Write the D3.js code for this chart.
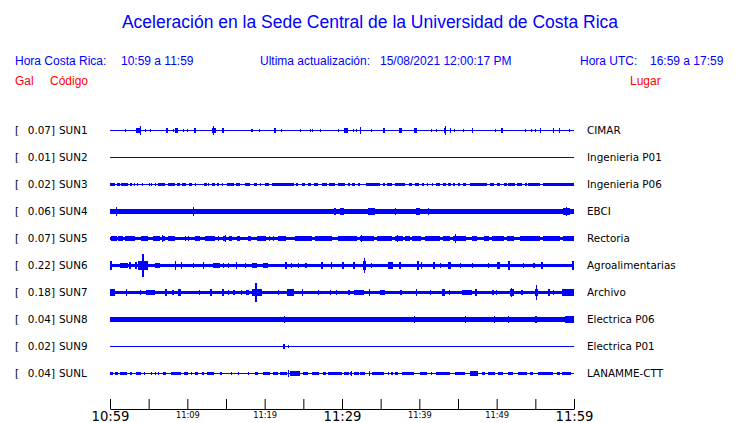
<!DOCTYPE html>
<html>
<head>
<meta charset="utf-8">
<script src="https://cdn.jsdelivr.net/npm/d3@7"></script>
<style>
  body { margin: 0; background: #fff; }
  svg { display: block; }
  .hdr { font-family: "Liberation Sans", Arial, sans-serif; font-size: 12px; }
  .lbl { font-family: "DejaVu Sans", sans-serif; font-size: 10.4px; fill: #000; }
</style>
</head>
<body>
<div id="chart"></div>
<script>
  // stations, top to bottom
  var codes = ['SUN1', 'SUN2', 'SUN3', 'SUN4', 'SUN5', 'SUN6', 'SUN7', 'SUN8', 'SUN9', 'SUNL'];
  var places = ['CIMAR', 'Ingenieria P01', 'Ingenieria P06', 'EBCI', 'Rectoria', 'Agroalimentarias',
    'Archivo', 'Electrica P06', 'Electrica P01', 'LANAMME-CTT'];
  var peakGal = ['0.07', '0.01', '0.02', '0.06', '0.07', '0.22', '0.18', '0.04', '0.02', '0.04'];
  // background noise level of each trace (relative amplitude)
  var baseNoise = [0, 0, 0, 0.15, 0.11, 0.11, 0.11, 0.14, 0, 0];

  // minutes after 10:59
  var tickMinutes = [0, 5, 10, 15, 20, 25, 30, 35, 40, 45, 50, 55, 60];
  var tickLabels = ['10:59', '', '11:09', '', '11:19', '', '11:29', '', '11:39', '', '11:49', '', '11:59'];
  var majorLabels = ['10:59', '11:29', '11:59'];

  // bursts: [start min, end min, relative amplitude]
  var sun1Bursts = [[2.0, 2.1, 0.1], [3.4, 4.0, 0.15], [3.9, 4.0, 0.3], [4.5, 4.6, 0.1], [5.2, 5.3, 0.1],
    [7.3, 7.5, 0.15], [8.1, 8.2, 0.1], [8.4, 8.8, 0.13], [9.4, 9.5, 0.1], [10.0, 10.1, 0.1],
    [10.9, 11.1, 0.15], [13.2, 13.7, 0.18], [13.3, 13.4, 0.33], [14.5, 14.7, 0.12], [18.2, 18.4, 0.1],
    [19.3, 19.4, 0.1], [21.2, 21.5, 0.15], [22.1, 22.2, 0.08], [24.6, 24.7, 0.08], [25.9, 26.0, 0.08],
    [26.1, 26.2, 0.1], [27.2, 27.3, 0.1], [29.5, 29.6, 0.1], [30.3, 30.8, 0.18], [31.4, 31.5, 0.1],
    [31.8, 31.9, 0.1], [32.3, 32.4, 0.25], [33.8, 33.9, 0.1], [35.3, 35.6, 0.12], [37.4, 37.8, 0.15],
    [39.3, 39.7, 0.15], [41.5, 41.6, 0.1], [42.2, 42.3, 0.1], [43.2, 43.5, 0.18], [43.3, 43.4, 0.33],
    [44.0, 44.1, 0.15], [44.5, 44.6, 0.1], [45.6, 45.7, 0.1], [46.8, 46.9, 0.12], [49.8, 49.9, 0.1],
    [50.6, 50.8, 0.12], [53.7, 53.8, 0.1], [54.4, 54.5, 0.1], [55.0, 55.1, 0.1], [55.6, 55.7, 0.12],
    [57.3, 57.4, 0.12], [58.0, 58.1, 0.12], [59.4, 59.5, 0.1]];
  var sun2Bursts = [];
  var sun3Bursts = [[0, 0.65, 0.11], [0.86, 1.29, 0.11], [1.42, 2.37, 0.11], [2.58, 2.8, 0.11], [3.1, 3.2, 0.11],
    [3.55, 3.6, 0.11], [4.2, 4.25, 0.11], [5.05, 5.1, 0.11], [5.35, 5.4, 0.11], [5.8, 5.85, 0.11],
    [6.25, 7.1, 0.11], [7.54, 8.4, 0.11], [8.6, 9.05, 0.11], [9.35, 9.9, 0.11], [10.2, 10.55, 0.11],
    [11.0, 11.05, 0.11], [12.15, 12.5, 0.11], [12.7, 12.75, 0.11], [13.2, 13.6, 0.11], [13.9, 14.2, 0.11],
    [14.45, 14.5, 0.11], [15.1, 15.95, 0.11], [16.3, 16.8, 0.11], [17.45, 18.1, 0.11], [18.6, 19.0, 0.11],
    [19.4, 19.45, 0.11], [20.0, 20.5, 0.11], [20.9, 23.7, 0.11], [24.05, 24.35, 0.11], [24.8, 25.2, 0.11],
    [25.65, 26.1, 0.11], [26.4, 26.95, 0.11], [27.4, 28.0, 0.11], [28.3, 29.1, 0.11], [29.5, 30.4, 0.11],
    [30.8, 31.0, 0.11], [31.25, 31.7, 0.11], [32.1, 32.3, 0.11], [33.1, 34.9, 0.11], [35.35, 35.6, 0.11],
    [35.8, 36.4, 0.11], [36.85, 38.15, 0.11], [38.6, 39.0, 0.11], [39.4, 39.9, 0.11], [40.3, 40.5, 0.11],
    [40.95, 41.0, 0.11], [41.6, 41.65, 0.11], [42.2, 42.7, 0.11], [43.1, 43.5, 0.11], [43.75, 44.2, 0.11],
    [44.4, 44.6, 0.11], [45.0, 45.3, 0.11], [45.7, 46.1, 0.11], [46.55, 48.7, 0.11], [49.1, 49.6, 0.11],
    [50.0, 50.4, 0.11], [50.9, 51.3, 0.11], [51.5, 52.4, 0.11], [52.6, 53.2, 0.11], [53.7, 53.9, 0.11],
    [54.1, 55.6, 0.11], [56.0, 60, 0.11]];
  var sun4Bursts = [[0.8, 0.95, 0.27], [10.75, 10.85, 0.27], [19.5, 19.7, 0.18], [29.0, 29.2, 0.2],
    [29.8, 30.0, 0.22], [29.74, 30.2, 0.2], [33.4, 34.3, 0.19], [36.8, 36.9, 0.19], [39.6, 40.1, 0.19],
    [41.15, 41.25, 0.19], [56.15, 56.25, 0.18], [58.6, 59.5, 0.2], [59.0, 59.1, 0.27]];
  var sun5Bursts = [[0.13, 0.86, 0.17], [1.07, 1.72, 0.17], [2.0, 3.23, 0.17], [4.0, 4.95, 0.17], [5.6, 6.45, 0.17],
    [6.68, 7.1, 0.17], [6.7, 6.8, 0.25], [7.45, 8.4, 0.17], [9.7, 9.8, 0.17], [10.1, 10.2, 0.17], [11.0, 11.6, 0.17],
    [12.3, 13.6, 0.17], [14.0, 14.1, 0.17], [14.65, 15.1, 0.17], [14.85, 14.95, 0.25], [15.4, 15.75, 0.17],
    [16.4, 16.8, 0.17], [17.9, 18.3, 0.17], [18.95, 20.05, 0.17], [20.5, 20.6, 0.17], [21.1, 21.2, 0.17],
    [21.75, 22.8, 0.17], [23.9, 26.1, 0.17], [26.5, 28.65, 0.17], [29.5, 31.9, 0.17], [32.3, 34.05, 0.17],
    [32.45, 32.55, 0.25], [34.5, 36.4, 0.17], [36.85, 37.9, 0.17], [37.05, 37.15, 0.25], [38.1, 38.8, 0.17],
    [39.0, 40.1, 0.17], [40.7, 42.7, 0.17], [43.1, 44.0, 0.17], [44.4, 46.1, 0.17], [44.65, 44.8, 0.3],
    [46.8, 47.4, 0.17], [48.3, 48.9, 0.17], [49.35, 50.9, 0.17], [51.3, 52.2, 0.17], [53.0, 55.6, 0.17],
    [56.0, 58.2, 0.17], [58.6, 60, 0.17]];
  var sun6Bursts = [[0.0, 0.25, 0.26], [1.3, 2.37, 0.18], [2.5, 2.7, 0.24], [3.2, 3.4, 0.22], [3.66, 4.95, 0.3],
    [4.18, 4.4, 0.85], [5.8, 6.45, 0.15], [8.35, 8.45, 0.3], [9.15, 9.25, 0.2], [10.75, 10.85, 0.15],
    [12.0, 12.1, 0.2], [13.35, 14.2, 0.18], [14.6, 14.7, 0.18], [15.25, 15.35, 0.18], [16.35, 16.45, 0.24],
    [17.4, 17.5, 0.18], [18.3, 19.0, 0.18], [19.8, 20.5, 0.18], [22.6, 22.85, 0.2], [23.45, 23.55, 0.18],
    [24.25, 24.35, 0.18], [25.2, 25.4, 0.18], [27.3, 27.6, 0.2], [28.6, 28.7, 0.2], [29.95, 30.2, 0.2],
    [31.46, 31.7, 0.2], [32.75, 33.2, 0.3], [32.9, 33.05, 0.52], [33.75, 33.85, 0.18], [36.0, 36.6, 0.2],
    [37.4, 37.7, 0.2], [39.65, 39.9, 0.28], [40.25, 40.35, 0.22], [41.8, 42.0, 0.2], [42.65, 42.75, 0.18],
    [43.75, 44.2, 0.2], [45.25, 45.35, 0.18], [46.75, 46.85, 0.18], [48.85, 48.95, 0.18], [50.0, 50.4, 0.2],
    [51.5, 51.7, 0.26], [53.4, 53.5, 0.18], [54.7, 55.0, 0.18], [55.7, 56.0, 0.2], [59.7, 59.9, 0.26]];
  var sun7Bursts = [[0.0, 0.65, 0.2], [2.1, 2.2, 0.2], [3.85, 3.95, 0.18], [4.7, 5.8, 0.18], [7.1, 7.3, 0.2],
    [8.0, 8.2, 0.18], [8.8, 9.25, 0.2], [11.55, 11.65, 0.18], [12.9, 13.1, 0.2], [14.45, 14.65, 0.2],
    [15.25, 15.35, 0.18], [15.95, 16.15, 0.18], [16.95, 17.05, 0.18], [17.65, 18.1, 0.18], [18.3, 19.6, 0.25],
    [18.8, 19.1, 0.67], [21.7, 21.8, 0.18], [22.95, 23.9, 0.22], [24.8, 24.95, 0.25], [26.85, 26.95, 0.18],
    [28.4, 28.5, 0.18], [29.25, 29.35, 0.18], [30.8, 31.0, 0.15], [31.5, 32.8, 0.15], [33.55, 33.65, 0.22],
    [34.9, 35.5, 0.18], [37.5, 37.7, 0.18], [39.6, 39.7, 0.2], [41.35, 41.45, 0.18], [42.9, 43.3, 0.2],
    [43.9, 44.0, 0.18], [45.5, 46.8, 0.18], [47.2, 47.4, 0.2], [49.35, 49.6, 0.18], [49.95, 50.05, 0.18],
    [51.7, 52.2, 0.25], [51.85, 51.95, 0.33], [53.2, 53.45, 0.18], [54.95, 55.4, 0.25], [55.1, 55.25, 0.52],
    [56.7, 56.9, 0.2], [57.25, 57.35, 0.18], [58.4, 59.9, 0.2]];
  var sun8Bursts = [[22.45, 22.55, 0.22], [39.25, 39.35, 0.2], [43.35, 43.45, 0.18], [45.95, 46.05, 0.22],
    [49.6, 49.7, 0.2], [50.85, 50.95, 0.18], [51.45, 51.55, 0.2], [52.95, 53.05, 0.18], [53.85, 53.95, 0.18],
    [55.0, 55.2, 0.22], [55.75, 55.85, 0.18], [58.8, 59.9, 0.22]];
  var sun9Bursts = [[22.4, 22.6, 0.12], [23.0, 23.1, 0.08]];
  var sunlBursts = [[0.0, 0.43, 0.11], [0.64, 1.07, 0.11], [1.29, 2.15, 0.11], [2.58, 2.8, 0.11], [3.32, 4.0, 0.11],
    [4.45, 4.5, 0.11], [5.35, 5.4, 0.11], [5.8, 5.85, 0.11], [6.2, 6.25, 0.11], [6.9, 7.3, 0.11],
    [7.9, 9.25, 0.11], [9.6, 10.1, 0.11], [10.5, 10.55, 0.11], [11.0, 11.4, 0.11], [11.85, 12.05, 0.11],
    [12.5, 13.35, 0.11], [14.2, 14.45, 0.11], [15.7, 15.75, 0.11], [16.55, 16.6, 0.11], [17.85, 17.9, 0.11],
    [18.75, 19.2, 0.11], [19.8, 20.7, 0.11], [21.1, 21.75, 0.11], [22.0, 22.85, 0.11], [23.0, 23.1, 0.22],
    [23.3, 24.55, 0.15], [25.0, 25.65, 0.11], [26.1, 26.95, 0.11], [27.6, 28.0, 0.11], [28.2, 30.0, 0.11],
    [30.2, 30.8, 0.11], [31.0, 31.25, 0.11], [31.2, 31.3, 0.18], [31.5, 32.1, 0.11], [32.3, 32.95, 0.11],
    [33.55, 33.65, 0.18], [33.85, 35.35, 0.11], [35.95, 36.0, 0.11], [36.4, 36.6, 0.11], [36.85, 37.3, 0.11],
    [37.7, 39.2, 0.11], [40.1, 40.95, 0.11], [41.55, 41.6, 0.11], [42.2, 44.0, 0.11], [44.6, 45.9, 0.11],
    [46.55, 47.6, 0.15], [48.05, 48.5, 0.11], [48.9, 49.8, 0.11], [50.2, 50.9, 0.11], [51.5, 52.2, 0.11],
    [52.8, 53.9, 0.11], [54.3, 54.7, 0.11], [55.4, 57.3, 0.11], [57.8, 58.2, 0.11], [58.4, 59.5, 0.11]];
  var bursts = [sun1Bursts, sun2Bursts, sun3Bursts, sun4Bursts, sun5Bursts,
    sun6Bursts, sun7Bursts, sun8Bursts, sun9Bursts, sunlBursts];

  var BLUE = '#0000ff';
  var RED = '#ff0000';
  var width = 740;
  var height = 423;

  var svg = d3.select('#chart').append('svg')
    .attr('width', width)
    .attr('height', height);

  /* header */
  svg.append('text')
    .attr('x', 370).attr('y', 28)
    .attr('text-anchor', 'middle')
    .style('font-family', '"Liberation Sans", Arial, sans-serif')
    .style('font-size', '17.5px')
    .attr('fill', BLUE)
    .text('Aceleración en la Sede Central de la Universidad de Costa Rica');

  var headerItems = [
    ['Hora Costa Rica:', 15], ['10:59 a 11:59', 121], ['Ultima actualización:', 260],
    ['15/08/2021 12:00:17 PM', 380], ['Hora UTC:', 580], ['16:59 a 17:59', 650]
  ];
  svg.selectAll('.hdr-blue')
    .data(headerItems)
    .enter().append('text')
    .attr('class', 'hdr')
    .attr('x', function (d) { return d[1]; })
    .attr('y', 65)
    .attr('fill', BLUE)
    .text(function (d) { return d[0]; });

  svg.selectAll('.hdr-red')
    .data([['Gal', 15], ['Código', 50], ['Lugar', 630]])
    .enter().append('text')
    .attr('class', 'hdr')
    .attr('x', function (d) { return d[1]; })
    .attr('y', 85)
    .attr('fill', RED)
    .text(function (d) { return d[0]; });

  /* scales */
  var x = d3.scaleLinear().domain([0, 60]).range([110, 574]);
  var row = d3.scaleBand().domain(codes).range([116.5, 386.5]);
  var amp = d3.scaleLinear().domain([-1, 1]).range([13.5, -13.5]);

  function center(code) { return row(code) + row.bandwidth() / 2; }

  function band(cy, a) {
    var top = Math.round(cy + amp(a));
    var bottom = Math.round(cy + amp(-a)) + 1;
    return [top, bottom - top];
  }

  var rows = svg.selectAll('.station')
    .data(codes)
    .enter().append('g')
    .attr('class', 'station');

  /* left labels */
  rows.append('text').attr('class', 'lbl')
    .attr('x', 15)
    .attr('y', function (d) { return center(d) + 4; })
    .text('[');
  rows.append('text').attr('class', 'lbl')
    .attr('x', 55)
    .attr('y', function (d) { return center(d) + 4; })
    .attr('text-anchor', 'end')
    .text(function (d, i) { return peakGal[i] + ']'; });
  rows.append('text').attr('class', 'lbl')
    .attr('x', 59)
    .attr('y', function (d) { return center(d) + 4; })
    .text(function (d) { return d; });

  /* right labels */
  rows.append('text').attr('class', 'lbl')
    .attr('x', 587)
    .attr('y', function (d) { return center(d) + 4; })
    .text(function (d, i) { return places[i]; });

  /* traces: background band + bursts */
  rows.each(function (code, i) {
    var g = d3.select(this);
    var cy = center(code);
    var b = band(cy, baseNoise[i]);
    g.append('rect')
      .attr('x', x(0))
      .attr('y', b[0])
      .attr('width', x(60) - x(0))
      .attr('height', b[1])
      .attr('fill', BLUE)
      .attr('shape-rendering', 'crispEdges');

    g.selectAll('.burst')
      .data(bursts[i])
      .enter().append('rect')
      .attr('class', 'burst')
      .attr('x', function (d) { return Math.round(x(d[0])); })
      .attr('width', function (d) { return Math.max(1, Math.round(x(d[1]) - x(d[0]))); })
      .attr('y', function (d) { return band(cy, d[2])[0]; })
      .attr('height', function (d) { return band(cy, d[2])[1]; })
      .attr('fill', BLUE)
      .attr('shape-rendering', 'crispEdges');
  });

  /* time axis */
  var axis = d3.axisBottom(x)
    .tickValues(tickMinutes)
    .tickSizeInner(-10)
    .tickSizeOuter(0)
    .tickFormat(function (d, i) { return tickLabels[i]; });

  var ag = svg.append('g')
    .attr('transform', 'translate(0,409)')
    .call(axis);
  ag.select('.domain').attr('stroke', '#000');
  ag.selectAll('.tick line').attr('stroke', '#000');
  ag.selectAll('.tick text')
    .attr('fill', '#000')
    .attr('dy', 0)
    .style('font-family', '"DejaVu Sans", sans-serif')
    .attr('y', function (d, i) { return majorLabels.indexOf(tickLabels[i]) >= 0 ? 12 : 9; })
    .style('font-size', function (d, i) { return majorLabels.indexOf(tickLabels[i]) >= 0 ? '13.2px' : '8.3px'; });
</script>
</body>
</html>
